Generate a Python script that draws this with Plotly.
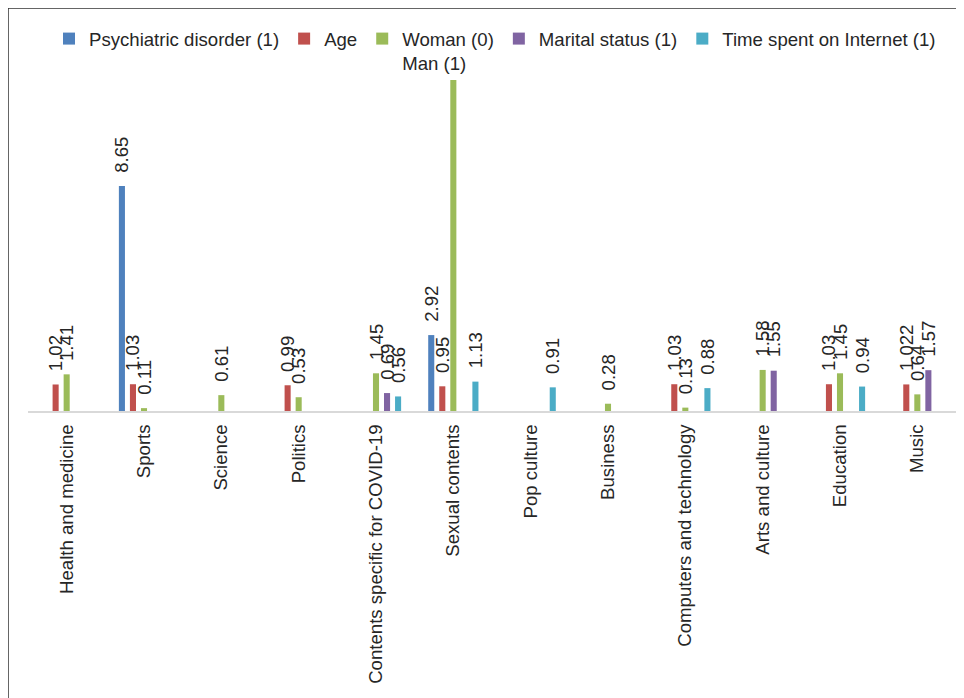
import plotly.graph_objects as go

categories = [
    "Health and medicine", "Sports", "Science", "Politics",
    "Contents specific for COVID-19", "Sexual contents", "Pop culture",
    "Business", "Computers and technology", "Arts and culture",
    "Education", "Music",
]

series_names = [
    "Psychiatric disorder (1)", "Age", "Woman (0)<br>Man (1)",
    "Marital status (1)", "Time spent on Internet (1)",
]

psychiatric = [None, 8.65, None, None, None, 2.92, None, None, None, None, None, None]
age = [1.02, 1.03, None, 0.99, None, 0.95, None, None, 1.03, None, 1.03, 1.022]
woman_man = [1.41, 0.11, 0.61, 0.53, 1.45, 12.73, None, 0.28, 0.13, 1.58, 1.45, 0.64]
marital = [None, None, None, None, 0.69, None, None, None, None, 1.55, None, 1.57]
internet = [None, None, None, None, 0.56, 1.13, 0.91, None, 0.88, None, 0.94, None]

colors = ["#4F81BD", "#C0504D", "#9BBB59", "#8064A2", "#4BACC6"]

Y_MAX = 13

# page offset (default body margin of the html page)
OFF = 8
W, H = 964 - OFF, 698 - OFF
# plot area in page pixels: x 28..956, y 73..411
L = 28 - OFF
R = (964 - OFF) - (956 - OFF)
T = 73 - OFF
B = H - (411 - OFF)
PW = W - L - R
PH = H - T - B


def px_x(x):
    return (x - OFF - L) / PW


def px_y(y):
    return (H - B - (y - OFF)) / PH


def labels(vals):
    out = []
    for v in vals:
        if v is None or v > Y_MAX - 1.5:
            out.append("")
        else:
            out.append("\u00a0\u00a0" + str(v))
    return out


FS = 18.6

fig = go.Figure()
for name, vals, col in zip(series_names,
                           [psychiatric, age, woman_man, marital, internet],
                           colors):
    fig.add_trace(go.Bar(
        name=name, x=categories, y=vals, marker_color=col,
        marker_line_width=0,
        text=labels(vals), textposition="outside", textangle=-90,
        constraintext="none", cliponaxis=False,
        textfont=dict(size=FS, color="#262626"),
    ))

fig.update_layout(
    template="none",
    width=W, height=H,
    margin=dict(l=L, r=R, t=T, b=B, autoexpand=False),
    paper_bgcolor="white", plot_bgcolor="white",
    font=dict(family="Liberation Sans, Arial, sans-serif", size=FS, color="#262626"),
    barmode="group", bargap=0.286, bargroupgap=0.45,
    showlegend=True,
    legend=dict(
        orientation="h", x=px_x(49), y=px_y(20), xanchor="left", yanchor="top",
        font=dict(size=FS, color="#262626"), valign="top",
        bgcolor="rgba(0,0,0,0)", itemwidth=30, tracegroupgap=0,
    ),
    xaxis=dict(
        showline=True, linecolor="#D9D9D9", linewidth=2, showgrid=False,
        ticks="", tickangle=-90, ticklabelstandoff=4, automargin=False,
        tickfont=dict(size=FS, color="#262626"),
    ),
    yaxis=dict(visible=False, range=[0, Y_MAX], showgrid=False, zeroline=False),
    shapes=[dict(
        type="rect", xref="paper", yref="paper",
        x0=px_x(8), x1=px_x(990), y0=px_y(8), y1=px_y(760),
        line=dict(color="#333333", width=1.5), fillcolor="rgba(0,0,0,0)",
        layer="above",
    )],
)

fig.write_html("out.html")
